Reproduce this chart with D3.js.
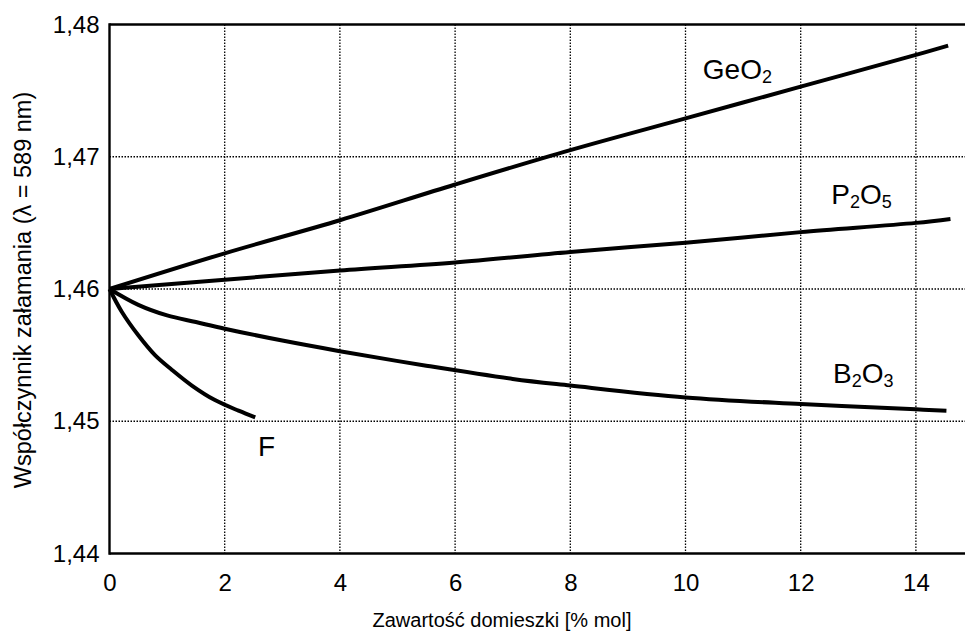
<!DOCTYPE html>
<html>
<head>
<meta charset="utf-8">
<script src="https://cdn.jsdelivr.net/npm/d3@7"></script>
<style>
  body { margin: 0; background: #fff; }
  svg text { font-family: 'Liberation Sans', Arial, Helvetica, sans-serif; fill: #000; }
  .grid line { stroke: #000; stroke-width: 1.3; stroke-dasharray: 1.5 1.5; }
  .frame line { stroke: #000; stroke-width: 2.4; }
  .curve { fill: none; stroke: #000; stroke-width: 4; }
</style>
</head>
<body>
<div id="chart"></div>
<script>
// values (refractive index vs dopant mol %)
const geo2X = [0, 2, 4, 6, 8, 10, 12, 14, 14.56]
const geo2N = [1.46, 1.4627, 1.4652, 1.4679, 1.4705, 1.4729, 1.4753, 1.4777, 1.4784]

const p2o5X = [0, 2, 4, 6, 8, 10, 12, 14, 14.6]
const p2o5N = [1.46, 1.4607, 1.4614, 1.4620, 1.4628, 1.4635, 1.4643, 1.4650, 1.4653]

const b2o3X = [0, 0.5, 1, 1.5, 2, 3, 4, 5.5, 7, 8, 10, 12, 14, 14.53]
const b2o3N = [1.46, 1.4588, 1.4580, 1.4575, 1.4570, 1.4561, 1.4553, 1.4542, 1.4532, 1.4527, 1.4518, 1.4513, 1.4509, 1.4508]

const fX = [0, 0.21, 0.5, 0.79, 1.08, 1.43, 1.83, 2.24, 2.53]
const fN = [1.46, 1.4583, 1.4565, 1.4550, 1.4539, 1.4527, 1.4516, 1.4508, 1.4503]

const xTicks = [0, 2, 4, 6, 8, 10, 12, 14]
const yTicks = [1.44, 1.45, 1.46, 1.47, 1.48]

// label text parts: [text, isSubscript]
const labelParts = [
  [['Ge', false], ['O', false], ['2', true]],
  [['P', false], ['2', true], ['O', false], ['5', true]],
  [['B', false], ['2', true], ['O', false], ['3', true]],
  [['F', false]],
]
// label anchor in data coords
const labelX = [10.3, 12.53, 12.56, 2.58]
const labelN = [1.47588, 1.46645, 1.45291, 1.44735]

const xTitle = 'Zawartość domieszki [% mol]'
const yTitle = 'Współczynnik załamania (λ = 589 nm)'

const width = 965
const height = 635

const x = d3.scaleLinear().domain([0, 15]).range([109.5, 973.5])
const y = d3.scaleLinear().domain([1.44, 1.48]).range([553.5, 24.5])

const plFormat = d3.formatLocale({ decimal: ',', thousands: ' ', grouping: [3], currency: ['', ' zł'] }).format('.2f')

const svg = d3.select('#chart')
  .append('svg')
  .attr('width', width)
  .attr('height', height)

// dotted grid
const grid = svg.append('g').attr('class', 'grid')
grid.selectAll('.vx')
  .data(xTicks.filter(d => d > 0))
  .enter().append('line')
    .attr('x1', d => x(d)).attr('x2', d => x(d))
    .attr('y1', y(1.48)).attr('y2', y(1.44))
grid.selectAll('.hy')
  .data(yTicks.filter(d => d > 1.44 && d < 1.48))
  .enter().append('line')
    .attr('x1', x(0)).attr('x2', width)
    .attr('y1', d => y(d)).attr('y2', d => y(d))

// frame: left, top, bottom (right side cut off by the picture)
const frame = svg.append('g').attr('class', 'frame')
frame.append('line').attr('x1', x(0)).attr('x2', x(0)).attr('y1', y(1.48) - 1.2).attr('y2', y(1.44) + 1.2)
frame.append('line').attr('x1', x(0)).attr('x2', width).attr('y1', y(1.48)).attr('y2', y(1.48))
frame.append('line').attr('x1', x(0)).attr('x2', width).attr('y1', y(1.44)).attr('y2', y(1.44))

// axes (labels only)
const xAxis = svg.append('g')
  .attr('transform', `translate(0,${y(1.44)})`)
  .call(d3.axisBottom(x).tickValues(xTicks).tickSize(0).tickPadding(20).tickFormat(d3.format('d')))
const yAxis = svg.append('g')
  .attr('transform', `translate(${x(0)},0)`)
  .call(d3.axisLeft(y).tickValues(yTicks).tickSize(0).tickPadding(10).tickFormat(plFormat))
xAxis.select('.domain').remove()
yAxis.select('.domain').remove()
svg.selectAll('.tick text')
  .attr('font-size', 24)
  .style('font-family', "'Liberation Sans', Arial, sans-serif")

// curves
const line = d3.line()
  .x(d => x(d[0]))
  .y(d => y(d[1]))
  .curve(d3.curveCatmullRom.alpha(0.5))

const series = [
  d3.zip(geo2X, geo2N),
  d3.zip(p2o5X, p2o5N),
  d3.zip(b2o3X, b2o3N),
  d3.zip(fX, fN),
]
svg.append('g').selectAll('path')
  .data(series)
  .enter().append('path')
    .attr('class', 'curve')
    .attr('d', line)

// curve labels with subscripts
const labels = svg.append('g').selectAll('text')
  .data(labelParts)
  .enter().append('text')
    .attr('x', (d, i) => x(labelX[i]))
    .attr('y', (d, i) => y(labelN[i]))
    .attr('font-size', 28)
labels.each(function (parts) {
  const t = d3.select(this)
  let shifted = false
  parts.forEach(([txt, sub]) => {
    const span = t.append('tspan').text(txt)
    if (sub && !shifted) { span.attr('font-size', 18).attr('dy', 4); shifted = true }
    else if (sub) span.attr('font-size', 18)
    else if (shifted) { span.attr('dy', -4); shifted = false }
  })
})

// axis titles
svg.append('text')
  .attr('x', 502)
  .attr('y', 627)
  .attr('text-anchor', 'middle')
  .attr('font-size', 20)
  .text(xTitle)

svg.append('text')
  .attr('transform', 'translate(31,290) rotate(-90)')
  .attr('text-anchor', 'middle')
  .attr('font-size', 23.5)
  .text(yTitle)
</script>
</body>
</html>
